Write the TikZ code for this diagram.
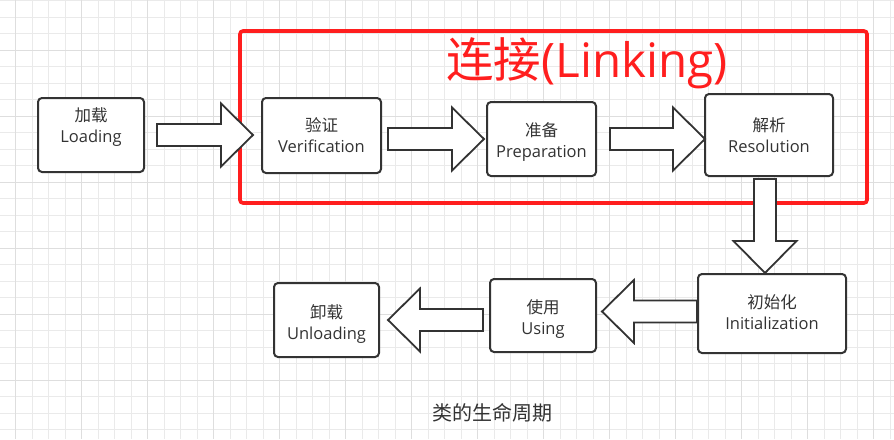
\documentclass[tikz,border=0pt]{standalone}
\usepackage{fontspec}
\setmainfont{Open Sans}
\newfontfamily\cjk{Noto Sans CJK SC}
\usetikzlibrary{calc}
\definecolor{ink}{HTML}{333333}
\definecolor{redline}{HTML}{FF1E1E}
\definecolor{gridminor}{HTML}{EAEAEA}
\definecolor{gridmajor}{HTML}{DEDEDE}
\tikzset{
  stage/.style={draw=ink, line width=2pt, rounded corners=4pt, fill=white, inner sep=0pt},
  stext/.style={text=ink, align=center, inner sep=0pt, font=\fontsize{16.5}{21}\selectfont},
  blockarrow/.style={draw=ink, line width=1.8pt, fill=white, line join=miter},
  gminor/.style={draw=gridminor, line width=1pt},
  gmajor/.style={draw=gridmajor, line width=1pt},
}
\newcommand\blkarrow[2]{%
  \coordinate (bh) at ($(#2)!32pt!(#1)$);
  \draw[blockarrow] ($(#1)!11pt!90:(#2)$) -- ($(bh)!11pt!90:(#2)$) -- ($(bh)!31.5pt!90:(#2)$) -- (#2)
    -- ($(bh)!31.5pt!-90:(#2)$) -- ($(bh)!11pt!-90:(#2)$) -- ($(#1)!11pt!-90:(#2)$) -- cycle;
}
\begin{document}
\begin{tikzpicture}[x=1pt,y=-1pt]
\useasboundingbox (0,0) rectangle (894,439);
\fill[white] (0,0) rectangle (894,439);
% grid
\foreach \i in {0,...,54}{\draw[gminor] ({-0.8+16.5*\i},0) -- ++(0,439);}
\foreach \j in {0,...,26}{\draw[gminor] (0,{0.8+16.5*\j}) -- ++(894,0);}
\foreach \i in {1,5,...,53}{\draw[gmajor] ({-0.8+16.5*\i},0) -- ++(0,439);}
\foreach \j in {3,7,...,26}{\draw[gmajor] (0,{0.8+16.5*\j}) -- ++(894,0);}

% linking frame
\node[draw=redline, line width=3.6pt, rounded corners=3pt, minimum width=627pt, minimum height=172pt, inner sep=0pt] (frame) at (553.5,117) {};
\node[text=redline, font=\fontsize{47.5}{50}\selectfont, inner sep=0pt] (title) at (587,63) {{\cjk 连接}(Linking)};

% stages
\node[stage, minimum width=106pt, minimum height=74pt,
  label={[stext, yshift=8pt]center:{\cjk 加载}\\Loading}] (load) at (91,135) {};
\node[stage, minimum width=119pt, minimum height=75pt,
  label={[stext]center:{\cjk 验证}\\Verification}] (ver) at (321.5,135.5) {};
\node[stage, minimum width=109pt, minimum height=74pt,
  label={[stext, yshift=-3pt]center:{\cjk 准备}\\Preparation}] (pre) at (541.5,139) {};
\node[stage, minimum width=128pt, minimum height=82pt,
  label={[stext]center:{\cjk 解析}\\Resolution}] (res) at (769,135) {};
\node[stage, minimum width=148pt, minimum height=79pt,
  label={[stext, yshift=1pt]center:{\cjk 初始化}\\Initialization}] (ini) at (772,313.5) {};
\node[stage, minimum width=106pt, minimum height=73pt,
  label={[stext, yshift=-4pt]center:{\cjk 使用}\\Using}] (use) at (543,315.5) {};
\node[stage, minimum width=105pt, minimum height=74pt,
  label={[stext, yshift=-4pt]center:{\cjk 卸载}\\Unloading}] (unl) at (326.5,320) {};

% arrow ends
\coordinate (a1s) at (157,135);   \coordinate (a1e) at (253,135);
\coordinate (a2s) at (388,139);   \coordinate (a2e) at (484,139);
\coordinate (a3s) at (610,139);   \coordinate (a3e) at (705,139);
\coordinate (a4s) at (765,179);   \coordinate (a4e) at (765,273);
\coordinate (a5s) at (697,311.5); \coordinate (a5e) at (602,311.5);
\coordinate (a6s) at (483,320);   \coordinate (a6e) at (388,320);
\blkarrow{a1s}{a1e}
\blkarrow{a2s}{a2e}
\blkarrow{a3s}{a3e}
\blkarrow{a4s}{a4e}
\blkarrow{a5s}{a5e}
\blkarrow{a6s}{a6e}

\node[text=ink, font=\cjk\fontsize{20}{24}\selectfont, inner sep=0pt] (cap) at (492,413) {类的生命周期};
\end{tikzpicture}
\end{document}
